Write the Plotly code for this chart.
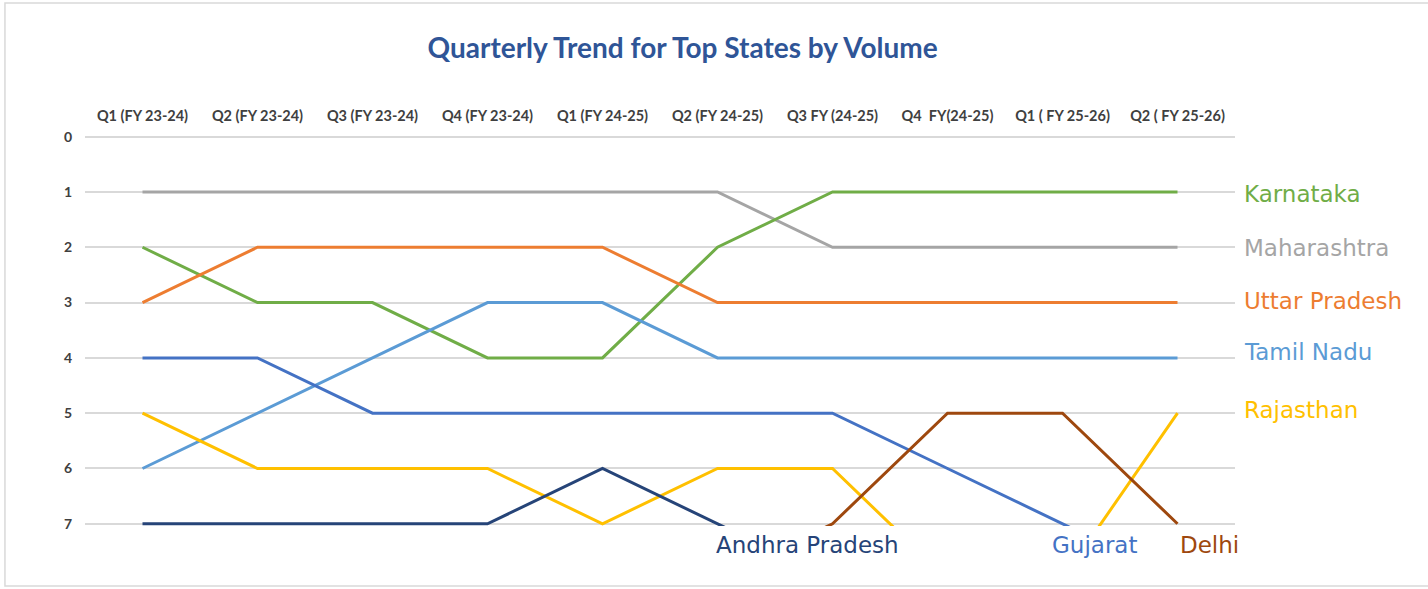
import plotly.graph_objects as go

quarters = ["Q1 (FY 23-24)", "Q2 (FY 23-24)", "Q3 (FY 23-24)", "Q4 (FY 23-24)",
            "Q1 (FY 24-25)", "Q2 (FY 24-25)", "Q3 FY (24-25)", "Q4  FY(24-25)",
            "Q1 ( FY 25-26)", "Q2 ( FY 25-26)"]

# ranks (8 = outside the top 7, drawn off-scale and clipped)
maharashtra = [1, 1, 1, 1, 1, 1, 2, 2, 2, 2]
karnataka = [2, 3, 3, 4, 4, 2, 1, 1, 1, 1]
uttar_pradesh = [3, 2, 2, 2, 2, 3, 3, 3, 3, 3]
tamil_nadu = [6, 5, 4, 3, 3, 4, 4, 4, 4, 4]
gujarat = [4, 4, 5, 5, 5, 5, 5, 6, 7, 8]
rajasthan = [5, 6, 6, 6, 7, 6, 6, 8, 8, 5]
andhra_pradesh = [7, 7, 7, 7, 6, 7, 8, 8, 8, 8]
delhi = [8, 8, 8, 8, 8, 8, 7, 5, 5, 7]

y_ticks = [0, 1, 2, 3, 4, 5, 6, 7]

series = [
    ("Maharashtra", maharashtra, "#A5A5A5"),
    ("Karnataka", karnataka, "#70AD47"),
    ("Uttar Pradesh", uttar_pradesh, "#ED7D31"),
    ("Tamil Nadu", tamil_nadu, "#5B9BD5"),
    ("Gujarat", gujarat, "#4472C4"),
    ("Rajasthan", rajasthan, "#FFC000"),
    ("Andhra Pradesh", andhra_pradesh, "#264478"),
    ("Delhi", delhi, "#9E480E"),
]

fig = go.Figure()
for name, vals, col in series:
    fig.add_trace(go.Scatter(x=quarters, y=vals, mode="lines", name=name,
                             line=dict(color=col, width=3)))

label_font = "DejaVu Sans, sans-serif"
right_labels = [("Karnataka", 1.04, "#70AD47"), ("Maharashtra", 2.02, "#A5A5A5"),
                ("Uttar Pradesh", 2.98, "#ED7D31"), ("Tamil Nadu", 3.9, "#5B9BD5"),
                ("Rajasthan", 4.95, "#FFC000")]
annotations = []
for txt, yv, col in right_labels:
    annotations.append(dict(text=txt, xref="paper", yref="y", x=1.0061, y=yv,
                            xanchor="left", yanchor="middle", showarrow=False,
                            font=dict(family=label_font, size=23, color=col)))
bottom_labels = [("Andhra Pradesh", 5.78, "#264478"), ("Gujarat", 8.28, "#4472C4"),
                 ("Delhi", 9.28, "#9E480E")]
for txt, xv, col in bottom_labels:
    annotations.append(dict(text=txt, xref="x", yref="paper", x=xv, y=-0.0486,
                            xanchor="center", yanchor="middle", showarrow=False,
                            font=dict(family=label_font, size=23, color=col)))

fig.update_layout(
    width=1428, height=589,
    margin=dict(l=85, r=193, t=135, b=63),
    paper_bgcolor="white", plot_bgcolor="white",
    showlegend=False,
    title=dict(text="<b>Quarterly Trend for Top States by Volume</b>",
               x=0.478, xanchor="center", y=0.918, yanchor="middle",
               font=dict(family="Lato, sans-serif", size=28, color="#2F5597")),
    xaxis=dict(side="top", type="category", range=[-0.5, 9.5],
               showgrid=False, zeroline=False, showline=False,
               ticks="", ticklabelstandoff=10,
               tickfont=dict(family="Lato, sans-serif", size=14.5, color="#404040", weight="bold")),
    yaxis=dict(range=[7.04, -0.03], tickvals=y_ticks, ticktext=[str(v) for v in y_ticks],
               showgrid=True, gridcolor="#D9D9D9", gridwidth=1.5, zeroline=False,
               showline=False, ticks="", ticklabelstandoff=12,
               tickfont=dict(family="Lato, sans-serif", size=14, color="#404040", weight="bold")),
    annotations=annotations,
    shapes=[dict(type="rect", xref="paper", yref="paper",
                 x0=-0.0696, x1=1.2304, y0=-0.1535, y1=1.3376,
                 line=dict(color="#D9D9D9", width=1.5), fillcolor="rgba(0,0,0,0)",
                 layer="below")],
)

fig.write_html("out.html", config={"displayModeBar": False},
               post_script="document.body.style.margin='0';")
